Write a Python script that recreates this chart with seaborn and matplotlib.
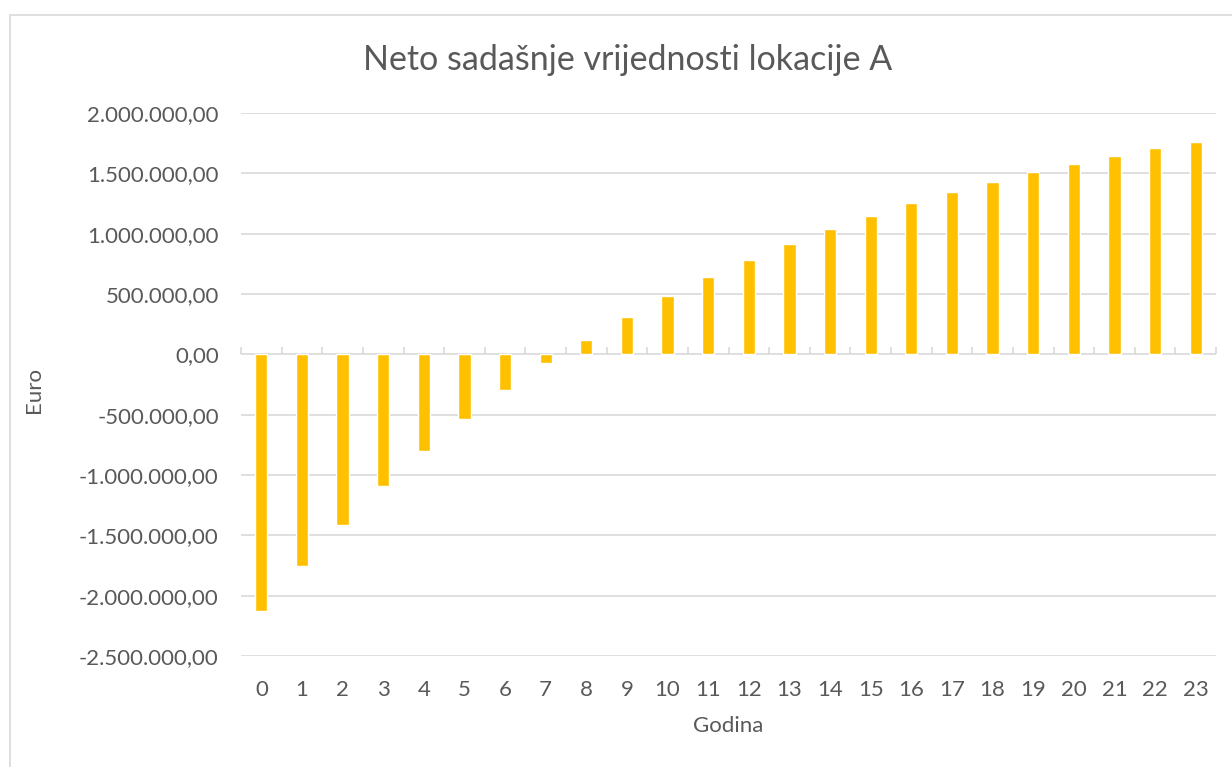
import matplotlib
matplotlib.use("Agg")
import matplotlib.pyplot as plt
import matplotlib.patches as mpatches
from matplotlib.ticker import FixedLocator, FuncFormatter
import seaborn as sns
import pandas as pd

years = list(range(24))
npv = [-2130000, -1754000, -1411000, -1093000, -805000, -539000, -296000, -72000,
       122000, 311000, 481000, 642000, 783000, 917000, 1039000, 1150000,
       1250000, 1344000, 1431000, 1508000, 1581000, 1644000, 1708000, 1761000]
yticks = [2000000, 1500000, 1000000, 500000, 0, -500000, -1000000, -1500000,
          -2000000, -2500000]

title = "Neto sadašnje vrijednosti lokacije A"
xlabel = "Godina"
ylabel = "Euro"

df = pd.DataFrame({"Godina": [str(y) for y in years], "NPV": npv})

sns.set_theme(style="white")
plt.rcParams['font.family'] = ['Lato', 'DejaVu Sans']
txt = "#595959"
grid = "#d9d9d9"

fig = plt.figure(figsize=(12.32, 7.67), dpi=100)
W, H = 1232, 767
ax = fig.add_axes([241 / W, 1 - 656 / H, (1216 - 241) / W, (656 - 113) / H])

sns.barplot(data=df, x="Godina", y="NPV", color="#FFC000", width=0.3,
            saturation=1, ax=ax, zorder=3)

ax.set_ylim(-2500000, 2000000)
ax.set_xlim(-0.5, len(years) - 0.5)
ax.yaxis.set_major_locator(FixedLocator(yticks))


def fmt(v, pos):
    s = f"{abs(int(round(v))):,}".replace(",", ".") + ",00"
    return ("-" + s) if v < 0 else s


ax.yaxis.set_major_formatter(FuncFormatter(fmt))
ax.grid(axis="y", color=grid, linewidth=1.2, zorder=0)
for s in ax.spines.values():
    s.set_visible(False)
ax.tick_params(axis="both", length=0, labelsize=16, colors=txt)
ax.tick_params(axis="x", pad=17)
ax.tick_params(axis="y", pad=16)

# zero axis line with tick marks between categories
zero_frac = 2500000 / 4500000
sec = ax.secondary_xaxis(zero_frac)
sec.set_xticks([i - 0.5 for i in range(len(years) + 1)])
sec.set_xticklabels([])
sec.tick_params(axis="x", direction="out", length=5, color=grid, width=1.2)
sec.spines["bottom"].set_color(grid)
sec.spines["bottom"].set_linewidth(1.2)
sec.spines["top"].set_visible(False)

ax.set_xlabel("")
ax.set_ylabel("")
fig.text(728 / W, 1 - 726 / H, xlabel, fontsize=16, color=txt,
         ha="center", va="center")
fig.text(34 / W, 1 - 390 / H, ylabel, fontsize=16, color=txt,
         ha="center", va="center", rotation=90)
fig.text(628 / W, 1 - 60 / H, title, fontsize=24.5, color=txt,
         ha="center", va="center")

fig.patches.append(mpatches.Rectangle((10 / W, -0.1), 1.2, 1 - 15 / H + 0.1,
                                      transform=fig.transFigure, fill=False,
                                      edgecolor=grid, linewidth=1.2))

fig.savefig("out.png", dpi=100, facecolor="white")
